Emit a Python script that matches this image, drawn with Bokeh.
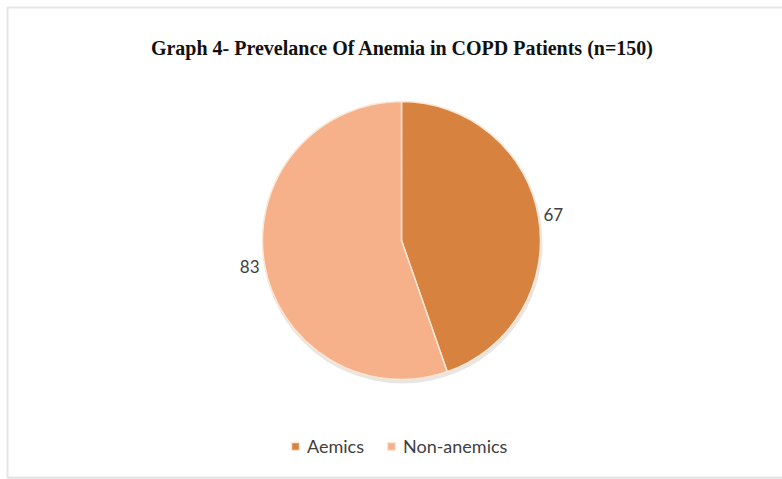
import numpy as np
from bokeh.plotting import figure
from bokeh.models import Range1d, Legend, LegendItem, ColumnDataSource, BoxAnnotation
from bokeh.embed import file_html
from bokeh.resources import INLINE
from bokeh.core.properties import value

# ---- data ----
categories = ["Aemics", "Non-anemics"]
counts = [67, 83]
colors = ["#D7823F", "#F6B08A"]
title_text = "Graph 4- Prevelance Of Anemia in COPD Patients (n=150)"

W, H = 782, 479
p = figure(width=W, height=H, x_range=Range1d(0, W), y_range=Range1d(0, H),
           output_backend="svg", toolbar_location=None, min_border=0,
           x_axis_location=None, y_axis_location=None)
p.grid.visible = False
p.outline_line_color = None
p.background_fill_color = "white"
p.border_fill_color = "white"

# frame border (decoration)
p.add_layout(BoxAnnotation(left=7, right=W + 20, bottom=2, top=H - 7,
                           fill_alpha=0, line_color="#A8A8A8", line_width=2))
p.add_layout(BoxAnnotation(left=8, right=W + 20, bottom=-10, top=2,
                           fill_color="#E6E6E6", fill_alpha=1, line_alpha=0))

cx, cy, r = 401, H - 240, 139
total = sum(counts)
frac = np.array(counts) / total
cum_end = np.cumsum(frac)
cum_start = cum_end - frac
start = np.pi / 2 - cum_end * 2 * np.pi
end = np.pi / 2 - cum_start * 2 * np.pi
mid = (start + end) / 2

src = ColumnDataSource(dict(cat=categories, val=[str(c) for c in counts],
                            start=start, end=end, color=colors,
                            lx=cx + 154 * np.cos(mid), ly=cy + 154 * np.sin(mid)))

# soft shadow
p.circle(x=[cx + 1], y=[cy - 3], radius=r + 1, fill_color="#D9D4CF", fill_alpha=0.6, line_alpha=0)

renderers = []
for i, c in enumerate(categories):
    rr = p.wedge(x=cx, y=cy, radius=r, start_angle=start[i], end_angle=end[i],
                 fill_color=colors[i], line_color="#FCE6D4", line_width=1.5)
    renderers.append(rr)

p.text(x="lx", y="ly", text="val", source=src, text_align="center", text_baseline="middle",
       text_font=value("Lato"), text_font_size="17px", text_color="#404040")

p.text(x=[402], y=[H - 47], text=[title_text], text_align="center", text_baseline="middle",
       text_font=value("Liberation Serif"), text_font_style="bold", text_font_size="20px",
       text_color="#111111")

legend = Legend(items=[LegendItem(label=c, renderers=[renderers[i]]) for i, c in enumerate(categories)],
                orientation="horizontal", location=(290, 22),
                border_line_color=None, background_fill_alpha=0,
                label_text_font="Lato", label_text_font_size="18px", label_text_color="#404040",
                glyph_width=10, glyph_height=10, label_standoff=7, spacing=22, padding=4)
p.add_layout(legend, "center")

open("out.html", "w").write(file_html(p, INLINE))
